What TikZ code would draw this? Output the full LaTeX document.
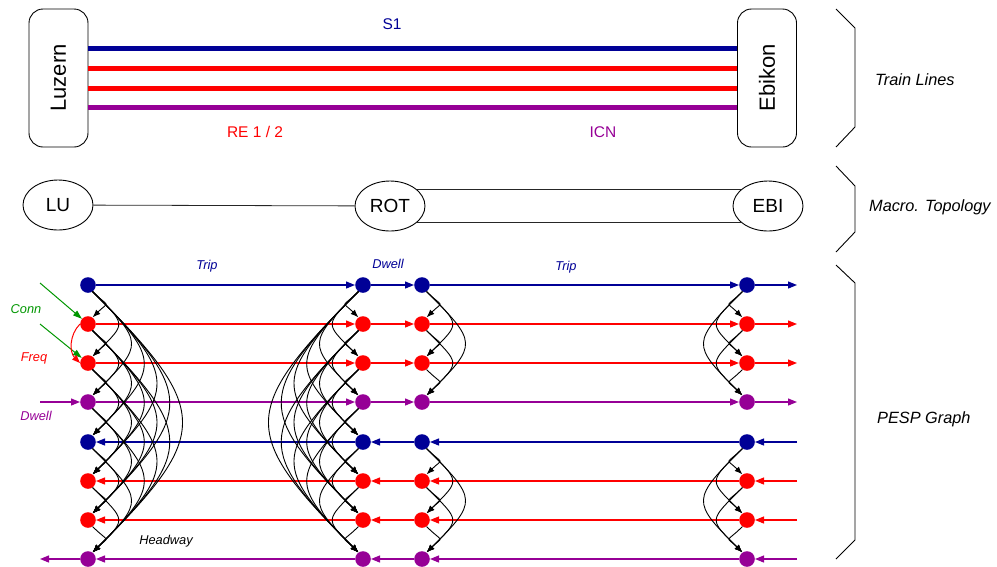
\documentclass[tikz,border=0pt]{standalone}
\usepackage{fontspec}
\setmainfont{Liberation Sans}
\usetikzlibrary{arrows.meta,shapes.geometric}
\definecolor{lblue}{RGB}{0,0,150}
\definecolor{lred}{RGB}{255,0,0}
\definecolor{lpurple}{RGB}{150,0,150}
\definecolor{lgreen}{RGB}{0,150,0}
\begin{document}
\begin{tikzpicture}[x=1pt,y=-1pt,
  station/.style={draw, line width=0.9pt, rounded corners=14pt, minimum width=138pt, minimum height=59pt, rotate=90, inner sep=0, font=\fontsize{22}{26}\selectfont},
  tline/.style={line width=5pt},
  topo/.style={draw, ellipse, line width=0.9pt, minimum width=70pt, minimum height=50pt, inner sep=0, font=\fontsize{19}{22}\selectfont},
  tlink/.style={line width=0.8pt, black!85},
  brace/.style={line width=0.9pt},
  side/.style={font=\fontsize{16.3}{19}\selectfont\itshape, anchor=west, inner sep=0},
  tl/.style={font=\fontsize{15.5}{18}\selectfont, inner sep=0},
  lab/.style={font=\fontsize{12.8}{15}\selectfont\itshape, inner sep=0},
  ev/.style={circle, inner sep=0, minimum size=15.6pt},
  rl/.style={line width=1.2pt, -{Triangle[length=9pt,width=7pt]}},
  hw/.style={line width=0.9pt, black, -{Latex[length=8pt,width=6pt]}},
  conn/.style={line width=1pt, lgreen, -{Triangle[length=9pt,width=6pt]}}
]
\useasboundingbox (0,0) rectangle (997,566);

% ---- Train lines ----
\node[station] (luz) at (58.5,78) {Luzern};
\node[station] (ebk) at (767,78) {Ebikon};
\draw[tline, lblue]   (luz.south |- 0,48)  -- (ebk.north |- 0,48);
\draw[tline, lred]    (luz.south |- 0,68)  -- (ebk.north |- 0,68);
\draw[tline, lred]    (luz.south |- 0,88)  -- (ebk.north |- 0,88);
\draw[tline, lpurple] (luz.south |- 0,107) -- (ebk.north |- 0,107);
\node[tl, text=lblue] (s1) at (392,24) {S1};
\node[tl, text=lred] (re) at (255,132) {RE 1 / 2};
\node[tl, text=lpurple] (icn) at (603,132) {ICN};
\draw[brace] (836,9) -- (855,28) -- (855,127) -- (836,147);
\node[side] (ltl) at (875,80) {Train Lines};

% ---- Macro topology ----
\node[topo] (lu) at (58,205) {LU};
\node[topo] (rot) at (390,206) {ROT};
\node[topo] (ebi) at (768,206) {EBI};
\draw[tlink] (lu) -- (rot);
\draw[tlink] (rot.31) -- (ebi.149);
\draw[tlink] (rot.-31) -- (ebi.-149);
\draw[brace] (836,166) -- (855,186) -- (855,232) -- (836,252);
\node[side] (lmt) at (869,207) {Macro. Topology};

% ---- PESP graph ----
\foreach \r/\yy/\cc in {1/285/lblue,2/324/lred,3/363/lred,4/402/lpurple,5/442/lblue,6/481/lred,7/520/lred,8/559/lpurple}{
  \foreach \c/\xx in {1/88,2/363,3/422,4/747}{
    \node[ev, fill=\cc] (c\c r\r) at (\xx,\yy) {};
  }
}
% forward rows
\foreach \r/\yy/\cc in {1/285/lblue,2/324/lred,3/363/lred,4/402/lpurple}{
  \coordinate (out\r) at (797,\yy);
  \draw[rl, \cc] (c1r\r) -- (c2r\r);
  \draw[rl, \cc] (c2r\r) -- (c3r\r);
  \draw[rl, \cc] (c3r\r) -- (c4r\r);
  \draw[rl, \cc] (c4r\r) -- (out\r);
}
% backward rows
\foreach \r/\yy/\cc in {5/442/lblue,6/481/lred,7/520/lred,8/559/lpurple}{
  \coordinate (in\r) at (797,\yy);
  \draw[rl, \cc] (in\r) -- (c4r\r);
  \draw[rl, \cc] (c4r\r) -- (c3r\r);
  \draw[rl, \cc] (c3r\r) -- (c2r\r);
  \draw[rl, \cc] (c2r\r) -- (c1r\r);
}
\coordinate (lin) at (40,402);
\coordinate (lout) at (40,559);
\draw[rl, lpurple] (lin) -- (c1r4);
\draw[rl, lpurple] (c1r8) -- (lout);

% connection and frequency arcs
\coordinate (g1) at (40,283);
\coordinate (g2) at (40,324);
\draw[conn] (g1) -- (c1r2);
\draw[conn] (g2) -- (c1r3);
\draw[line width=1pt, lred, -{Triangle[length=8pt,width=6pt]}] (c1r2.west) to[bend right=45] (c1r3.west);

% headway arcs, columns 1 and 2 (all rows)
\foreach \i in {1,...,7}{
  \pgfmathtruncatemacro{\js}{\i+1}
  \foreach \j in {\js,...,8}{
    \pgfmathsetmacro{\k}{17*(\j-\i)}
    \pgfmathsetmacro{\a}{17*(\j-\i)}
    \draw[hw] (c1r\i.-55) .. controls +(\k,\a) and +(\k,-\a) .. (c1r\j.55);
    \draw[hw] (c2r\i.-125) .. controls +(-\k,\a) and +(-\k,-\a) .. (c2r\j.125);
  }
}
% headway arcs, columns 3 and 4 (per direction)
\foreach \g in {0,4}{
  \foreach \i in {1,2,3}{
    \pgfmathtruncatemacro{\js}{\i+1}
    \foreach \j in {\js,...,4}{
      \pgfmathtruncatemacro{\ii}{\g+\i}
      \pgfmathtruncatemacro{\jj}{\g+\j}
      \pgfmathsetmacro{\k}{17*(\j-\i)}
      \pgfmathsetmacro{\a}{17*(\j-\i)}
      \draw[hw] (c3r\ii.-55) .. controls +(\k,\a) and +(\k,-\a) .. (c3r\jj.55);
      \draw[hw] (c4r\ii.-125) .. controls +(-\k,\a) and +(-\k,-\a) .. (c4r\jj.125);
    }
  }
}

% labels
\node[lab, text=lblue] (trip1) at (207,266) {Trip};
\node[lab, text=lblue] (trip2) at (566,267) {Trip};
\node[lab, text=lblue] (dw1) at (388,264) {Dwell};
\node[lab] (hwl) at (166,541) {Headway};
\node[lab, text=lgreen] (cnl) at (26,309) {Conn};
\node[lab, text=lred] (frl) at (34,358) {Freq};
\node[lab, text=lpurple] (dw2) at (36,416) {Dwell};

\draw[brace] (836,265) -- (855,283) -- (855,540) -- (836,559);
\node[side] (lpg) at (877,419) {PESP Graph};
\end{tikzpicture}
\end{document}
